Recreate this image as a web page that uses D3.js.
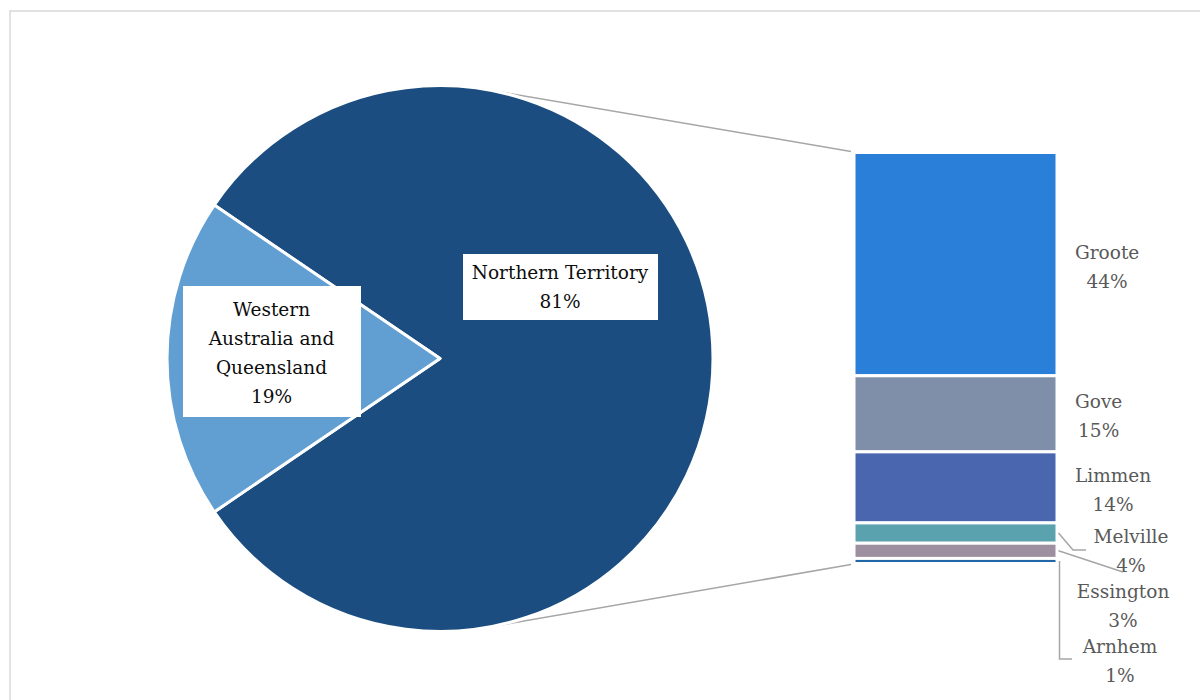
<!DOCTYPE html>
<html>
<head>
<meta charset="utf-8">
<script src="https://cdn.jsdelivr.net/npm/d3@7"></script>
<style>
  html, body { margin: 0; padding: 0; background: #fff; }
  svg { display: block; }
  text { font-family: "DejaVu Serif", serif; }
</style>
</head>
<body>
<svg id="chart" width="1200" height="700"></svg>
<script>
// Share of production by region
const pieLabels = ["Northern Territory", "Western Australia and Queensland"];
const pieValues = [81, 19];
const pieColors = ["#1b4d80", "#619ed2"];

// Breakdown of the Northern Territory share by area
const barLabels = ["Groote", "Gove", "Limmen", "Melville", "Essington", "Arnhem"];
const barValues = [44, 15, 14, 4, 3, 1];
const barColors = ["#2a7fd9", "#808fa9", "#4a66ae", "#5aa3ae", "#9d8fa0", "#2366a8"];

const svg = d3.select("#chart");
const W = 1200, H = 700;

// chart area frame
svg.append("rect")
  .attr("x", 10).attr("y", 11)
  .attr("width", W + 20).attr("height", H + 20)
  .attr("fill", "#fff").attr("stroke", "#d9d9d9").attr("stroke-width", 1.5);

// ---- pie ----
const cx = 440, cy = 358.5, r = 273;
const total = d3.sum(pieValues);
// centre the small slice on the left (9 o'clock)
const smallShare = pieValues[1] / total;
const start = -Math.PI / 2 + smallShare * Math.PI;
const pie = d3.pie().sort(null).value(d => d)
  .startAngle(start).endAngle(start + 2 * Math.PI);
const arcs = pie(pieValues);
const arc = d3.arc().innerRadius(0).outerRadius(r);

// ---- bar of the split slice ----
const barX0 = 854, barX1 = 1057;
const y = d3.scaleLinear().domain([0, d3.sum(barValues)]).range([152.5, 563.5]);
let acc = 0;
const stack = barValues.map((v, i) => {
  const s = { i, v, y0: y(acc), y1: y(acc + v) };
  acc += v;
  return s;
});

// connector lines, tangent to the pie from the bar corners
function tangent(px, py, upper) {
  const dx = px - cx, dy = py - cy;
  const d = Math.hypot(dx, dy);
  const a = Math.atan2(dy, dx);
  const off = Math.acos(r / d);
  const t = upper ? a - off : a + off;
  return [cx + r * Math.cos(t), cy + r * Math.sin(t)];
}
const topCorner = [barX0 - 3, y(0) - 1];
const botCorner = [barX0 - 3, y(d3.sum(barValues)) + 1];
const connectors = svg.append("g")
  .attr("stroke", "#a6a6a6").attr("stroke-width", 1.5).attr("fill", "none");
[[topCorner, true], [botCorner, false]].forEach(([p, up]) => {
  const t = tangent(p[0], p[1], up);
  connectors.append("line")
    .attr("x1", t[0]).attr("y1", t[1]).attr("x2", p[0]).attr("y2", p[1]);
});

const pieG = svg.append("g").attr("transform", `translate(${cx},${cy})`);
pieG.selectAll("path")
  .data(arcs)
  .join("path")
  .attr("d", arc)
  .attr("fill", (d, i) => pieColors[i])
  .attr("stroke", "#fff")
  .attr("stroke-width", 3)
  .attr("stroke-linejoin", "round");

svg.append("g").selectAll("rect")
  .data(stack)
  .join("rect")
  .attr("x", barX0)
  .attr("y", d => d.y0)
  .attr("width", barX1 - barX0)
  .attr("height", d => d.y1 - d.y0)
  .attr("fill", d => barColors[d.i])
  .attr("stroke", "#fff")
  .attr("stroke-width", 3);

// ---- pie labels in white boxes ----
const fontSize = 18.5;
const lineH = 29;
function boxedLabel(lines, cxL, cyL, box) {
  const g = svg.append("g");
  g.append("rect")
    .attr("x", box[0]).attr("y", box[1])
    .attr("width", box[2]).attr("height", box[3])
    .attr("fill", "#fff");
  const n = lines.length;
  lines.forEach((t, k) => {
    g.append("text")
      .attr("x", cxL)
      .attr("y", cyL + (k - (n - 1) / 2) * lineH)
      .attr("dy", "0.35em")
      .attr("text-anchor", "middle")
      .attr("font-size", fontSize)
      .attr("fill", "#0d0d0d")
      .text(t);
  });
}
const pct = v => Math.round(v / total * 100) + "%";
boxedLabel([pieLabels[0], pct(pieValues[0])], 560, 287, [463, 254, 195, 66]);
boxedLabel(["Western", "Australia and", "Queensland", pct(pieValues[1])], 271.5, 353.5, [183, 286, 178, 131]);

// ---- bar labels ----
const labelG = svg.append("g").attr("fill", "#595959").attr("font-size", fontSize);
// first three labels sit beside their segment; the thin ones are moved down
const moved = { 3: [1131, 551.5], 4: [1123, 606], 5: [1120, 661] };
stack.forEach(s => {
  const lines = [barLabels[s.i], barValues[s.i] + "%"];
  let lx, ly;
  if (moved[s.i]) {
    [lx, ly] = moved[s.i];
  } else {
    ly = (s.y0 + s.y1) / 2 + 2.5;
    lx = null;
  }
  const g = labelG.append("g");
  const texts = lines.map((t, k) => g.append("text")
    .attr("y", ly + (k - 0.5) * lineH)
    .attr("dy", "0.35em")
    .attr("text-anchor", "middle")
    .text(t));
  if (lx === null) {
    const w = d3.max(texts, t => t.node().getComputedTextLength());
    lx = 1075 + w / 2;
  }
  texts.forEach(t => t.attr("x", lx));
});

// leader lines for the moved labels
const leaders = svg.append("g")
  .attr("stroke", "#a6a6a6").attr("stroke-width", 1.5).attr("fill", "none");
const bx = barX1 + 1.5;
const mid = i => (stack[i].y0 + stack[i].y1) / 2;
leaders.append("polyline")
  .attr("points", [[bx, mid(3)], [1073, 550], [1086, 550]].join(" "));
leaders.append("polyline")
  .attr("points", [[bx, mid(4)], [1123, 572]].join(" "));
leaders.append("polyline")
  .attr("points", [[bx + 1, mid(5)], [bx + 1, 659], [1072, 659]].join(" "));
</script>
</body>
</html>
